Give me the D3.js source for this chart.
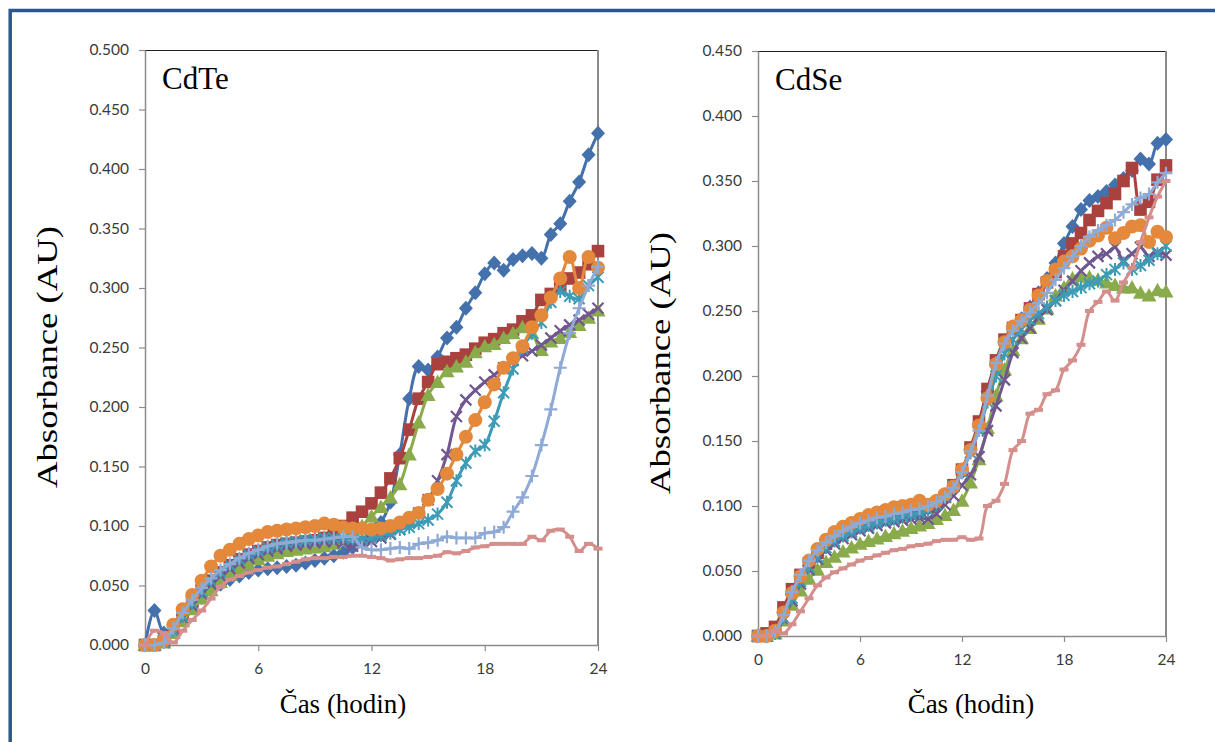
<!DOCTYPE html>
<html>
<head>
<meta charset="utf-8">
<script src="https://cdn.jsdelivr.net/npm/d3@7"></script>
<style>
    body { margin: 0; background: #fff; }
    svg { display: block; }
</style>
</head>
<body>
<svg id="chart" width="1215" height="742"></svg>
<script>
var hours = [0, 0.5, 1, 1.5, 2, 2.5, 3, 3.5, 4, 4.5, 5, 5.5, 6, 6.5, 7, 7.5, 8, 8.5, 9, 9.5, 10, 10.5, 11, 11.5,
    12, 12.5, 13, 13.5, 14, 14.5, 15, 15.5, 16, 16.5, 17, 17.5, 18, 18.5, 19, 19.5, 20, 20.5, 21, 21.5, 22, 22.5, 23, 23.5, 24];
var hourTicks = [0, 6, 12, 18, 24];
var cdteTicks = [0, 0.05, 0.1, 0.15, 0.2, 0.25, 0.3, 0.35, 0.4, 0.45, 0.5];
var cdseTicks = [0, 0.05, 0.1, 0.15, 0.2, 0.25, 0.3, 0.35, 0.4, 0.45];

// CdTe
var cdteBlue = [0, 0.029, 0.010, 0.016, 0.025, 0.033, 0.040, 0.046, 0.051, 0.055, 0.058, 0.061, 0.063, 0.064, 0.065, 0.066, 0.067, 0.069, 0.071, 0.073, 0.075, 0.078, 0.082, 0.087,
    0.094, 0.103, 0.120, 0.160, 0.207, 0.234, 0.231, 0.242, 0.258, 0.267, 0.283, 0.296, 0.312, 0.321, 0.315, 0.324, 0.327, 0.329, 0.325, 0.345, 0.354, 0.373, 0.389, 0.412, 0.430];
var cdteRed = [0, 0, 0.003, 0.012, 0.025, 0.036, 0.046, 0.054, 0.061, 0.067, 0.072, 0.076, 0.079, 0.082, 0.084, 0.085, 0.086, 0.087, 0.088, 0.090, 0.093, 0.100, 0.107, 0.112,
    0.119, 0.128, 0.140, 0.157, 0.181, 0.207, 0.221, 0.236, 0.238, 0.241, 0.244, 0.249, 0.254, 0.257, 0.262, 0.265, 0.272, 0.277, 0.290, 0.295, 0.302, 0.308, 0.313, 0.320, 0.331];
var cdteGreen = [0, 0, 0.002, 0.010, 0.020, 0.030, 0.039, 0.046, 0.053, 0.059, 0.064, 0.068, 0.072, 0.075, 0.077, 0.079, 0.080, 0.081, 0.082, 0.083, 0.085, 0.088, 0.093, 0.100,
    0.108, 0.116, 0.124, 0.135, 0.160, 0.187, 0.210, 0.221, 0.230, 0.234, 0.238, 0.246, 0.251, 0.253, 0.258, 0.262, 0.267, 0.262, 0.248, 0.255, 0.258, 0.263, 0.269, 0.275, 0.281];
var cdtePurple = [0, 0, 0.003, 0.012, 0.023, 0.033, 0.043, 0.051, 0.058, 0.064, 0.069, 0.073, 0.076, 0.079, 0.081, 0.083, 0.084, 0.085, 0.086, 0.087, 0.087, 0.086, 0.083, 0.085,
    0.087, 0.090, 0.093, 0.097, 0.103, 0.111, 0.122, 0.138, 0.160, 0.192, 0.206, 0.214, 0.221, 0.227, 0.233, 0.239, 0.243, 0.247, 0.252, 0.258, 0.264, 0.269, 0.273, 0.278, 0.283];
var cdteTeal = [0, 0, 0.002, 0.012, 0.024, 0.035, 0.045, 0.054, 0.061, 0.067, 0.072, 0.076, 0.079, 0.082, 0.084, 0.086, 0.087, 0.088, 0.089, 0.090, 0.090, 0.090, 0.089, 0.089,
    0.090, 0.092, 0.094, 0.097, 0.099, 0.102, 0.105, 0.110, 0.120, 0.138, 0.153, 0.163, 0.168, 0.188, 0.212, 0.232, 0.249, 0.262, 0.271, 0.288, 0.297, 0.293, 0.291, 0.302, 0.309];
var cdteOrange = [0, 0, 0.004, 0.017, 0.030, 0.042, 0.054, 0.066, 0.075, 0.080, 0.085, 0.089, 0.092, 0.095, 0.096, 0.097, 0.098, 0.099, 0.100, 0.102, 0.101, 0.099, 0.098, 0.098,
    0.097, 0.098, 0.100, 0.103, 0.107, 0.111, 0.122, 0.131, 0.144, 0.160, 0.175, 0.189, 0.204, 0.219, 0.233, 0.241, 0.251, 0.267, 0.277, 0.292, 0.308, 0.326, 0.300, 0.326, 0.317];
var cdteLightBlue = [0, 0, 0.002, 0.014, 0.027, 0.038, 0.048, 0.056, 0.063, 0.068, 0.073, 0.077, 0.080, 0.083, 0.085, 0.086, 0.087, 0.088, 0.088, 0.089, 0.090, 0.091, 0.091, 0.082,
    0.080, 0.080, 0.081, 0.082, 0.081, 0.085, 0.086, 0.088, 0.091, 0.090, 0.090, 0.090, 0.094, 0.095, 0.099, 0.112, 0.124, 0.142, 0.168, 0.198, 0.233, 0.262, 0.283, 0.302, 0.318];
var cdtePink = [0, 0.012, 0.010, 0.002, 0.012, 0.021, 0.029, 0.039, 0.049, 0.055, 0.058, 0.061, 0.063, 0.065, 0.066, 0.068, 0.070, 0.072, 0.073, 0.073, 0.074, 0.074, 0.075, 0.075,
    0.074, 0.073, 0.071, 0.072, 0.073, 0.073, 0.074, 0.075, 0.078, 0.077, 0.079, 0.082, 0.083, 0.085, 0.085, 0.085, 0.085, 0.091, 0.088, 0.096, 0.097, 0.091, 0.079, 0.085, 0.081];

// CdSe
var cdseBlue = [0, 0, 0.004, 0.018, 0.032, 0.044, 0.054, 0.062, 0.069, 0.074, 0.078, 0.082, 0.085, 0.087, 0.089, 0.090, 0.091, 0.092, 0.094, 0.096, 0.098, 0.101, 0.106, 0.114,
    0.126, 0.143, 0.163, 0.188, 0.210, 0.226, 0.236, 0.244, 0.253, 0.264, 0.275, 0.287, 0.302, 0.315, 0.328, 0.335, 0.338, 0.342, 0.347, 0.352, 0.358, 0.367, 0.363, 0.379, 0.382];
var cdseRed = [0, 0.002, 0.007, 0.022, 0.036, 0.047, 0.056, 0.064, 0.071, 0.076, 0.080, 0.083, 0.086, 0.088, 0.090, 0.091, 0.093, 0.094, 0.095, 0.097, 0.099, 0.102, 0.107, 0.116,
    0.128, 0.145, 0.165, 0.190, 0.212, 0.228, 0.237, 0.243, 0.252, 0.263, 0.272, 0.280, 0.292, 0.302, 0.310, 0.320, 0.327, 0.333, 0.340, 0.350, 0.360, 0.328, 0.334, 0.351, 0.362];
var cdseGreen = [0, 0, 0.002, 0.012, 0.024, 0.035, 0.044, 0.051, 0.057, 0.061, 0.065, 0.068, 0.071, 0.073, 0.075, 0.077, 0.079, 0.081, 0.083, 0.085, 0.087, 0.090, 0.093, 0.097,
    0.104, 0.118, 0.136, 0.160, 0.185, 0.205, 0.220, 0.229, 0.237, 0.244, 0.252, 0.262, 0.268, 0.275, 0.277, 0.276, 0.274, 0.272, 0.270, 0.268, 0.268, 0.264, 0.262, 0.266, 0.265];
var cdsePurple = [0, 0, 0.002, 0.013, 0.027, 0.040, 0.051, 0.059, 0.066, 0.071, 0.075, 0.078, 0.081, 0.083, 0.085, 0.087, 0.088, 0.089, 0.090, 0.091, 0.090, 0.094, 0.101, 0.108,
    0.116, 0.124, 0.138, 0.158, 0.177, 0.197, 0.218, 0.229, 0.237, 0.245, 0.251, 0.258, 0.266, 0.273, 0.281, 0.287, 0.292, 0.294, 0.299, 0.289, 0.294, 0.299, 0.292, 0.295, 0.293];
var cdseTeal = [0, 0, 0.002, 0.014, 0.029, 0.042, 0.053, 0.061, 0.068, 0.073, 0.077, 0.080, 0.083, 0.085, 0.087, 0.089, 0.090, 0.092, 0.093, 0.095, 0.097, 0.101, 0.107, 0.115,
    0.126, 0.141, 0.158, 0.180, 0.200, 0.217, 0.228, 0.236, 0.243, 0.248, 0.253, 0.258, 0.262, 0.265, 0.268, 0.271, 0.273, 0.278, 0.282, 0.287, 0.282, 0.285, 0.289, 0.294, 0.300];
var cdseOrange = [0, 0, 0.004, 0.018, 0.033, 0.046, 0.058, 0.067, 0.074, 0.080, 0.084, 0.087, 0.090, 0.093, 0.095, 0.097, 0.099, 0.100, 0.101, 0.104, 0.101, 0.104, 0.109, 0.115,
    0.128, 0.143, 0.162, 0.183, 0.209, 0.226, 0.238, 0.243, 0.251, 0.262, 0.273, 0.282, 0.288, 0.292, 0.298, 0.304, 0.308, 0.314, 0.306, 0.310, 0.315, 0.316, 0.303, 0.311, 0.307];
var cdseLightBlue = [0, 0, 0.003, 0.016, 0.034, 0.047, 0.058, 0.066, 0.072, 0.077, 0.081, 0.084, 0.087, 0.089, 0.091, 0.092, 0.094, 0.095, 0.097, 0.098, 0.100, 0.103, 0.107, 0.114,
    0.126, 0.142, 0.158, 0.185, 0.210, 0.225, 0.235, 0.242, 0.249, 0.256, 0.264, 0.274, 0.283, 0.292, 0.300, 0.307, 0.312, 0.316, 0.320, 0.326, 0.332, 0.337, 0.340, 0.349, 0.356];
var cdsePink = [0, 0, 0.004, 0.002, 0.009, 0.019, 0.029, 0.039, 0.045, 0.049, 0.052, 0.055, 0.058, 0.060, 0.062, 0.064, 0.066, 0.067, 0.069, 0.070, 0.071, 0.073, 0.074, 0.074,
    0.076, 0.074, 0.075, 0.100, 0.104, 0.117, 0.143, 0.150, 0.171, 0.174, 0.186, 0.189, 0.205, 0.212, 0.224, 0.250, 0.257, 0.265, 0.258, 0.272, 0.283, 0.303, 0.322, 0.338, 0.350];

var seriesColors = ['#4471ab', '#a9413e', '#8aab4b', '#70578f', '#3d9bb6', '#e4883b', '#8faad5', '#d48e8c'];
var markerTypes = ['diamond', 'square', 'triangle', 'cross', 'star', 'circle', 'plus', 'dash'];

var panels = [
    {
        title: 'CdTe', left: 145, right: 598, top: 50, bottom: 645, yMax: 0.5, yTicks: cdteTicks,
        xTitle: 343, yTitle: 357,
        series: [cdteBlue, cdteRed, cdteGreen, cdtePurple, cdteTeal, cdteOrange, cdteLightBlue, cdtePink]
    },
    {
        title: 'CdSe', left: 758, right: 1166, top: 51, bottom: 636, yMax: 0.45, yTicks: cdseTicks,
        xTitle: 971, yTitle: 363,
        series: [cdseBlue, cdseRed, cdseGreen, cdsePurple, cdseTeal, cdseOrange, cdseLightBlue, cdsePink]
    }
];

var svg = d3.select('#chart');
var axisColor = '#8c8c8c';
var serif = '"Liberation Serif", "Times New Roman", serif';

// outer frame, only top and left edges are inside the picture
svg.append('rect')
    .attr('x', 10.2).attr('y', 10.5)
    .attr('width', 1400).attr('height', 900)
    .attr('fill', 'none')
    .attr('stroke', '#2d5592')
    .attr('stroke-width', 3.5);

function drawMarker(sel, type, color) {
    if (type === 'diamond') {
        sel.append('path').attr('d', 'M0,-7.5L7,0L0,7.5L-7,0Z').attr('fill', color);
    } else if (type === 'square') {
        sel.append('rect').attr('x', -6.3).attr('y', -6.3).attr('width', 12.6).attr('height', 12.6).attr('fill', color);
    } else if (type === 'triangle') {
        sel.append('path').attr('d', 'M0,-7.5L7.5,6L-7.5,6Z').attr('fill', color);
    } else if (type === 'circle') {
        sel.append('circle').attr('r', 7).attr('fill', color);
    } else if (type === 'cross') {
        sel.append('path').attr('d', 'M-5.5,-5.5L5.5,5.5M-5.5,5.5L5.5,-5.5')
            .attr('stroke', color).attr('stroke-width', 2.2).attr('fill', 'none');
    } else if (type === 'star') {
        sel.append('path').attr('d', 'M-5.5,-5.5L5.5,5.5M-5.5,5.5L5.5,-5.5M0,-6.5L0,6.5')
            .attr('stroke', color).attr('stroke-width', 2).attr('fill', 'none');
    } else if (type === 'plus') {
        sel.append('path').attr('d', 'M-6.5,0L6.5,0M0,-6.5L0,6.5')
            .attr('stroke', color).attr('stroke-width', 2.2).attr('fill', 'none');
    } else if (type === 'dash') {
        sel.append('path').attr('d', 'M-4.5,0L4.5,0')
            .attr('stroke', color).attr('stroke-width', 4).attr('fill', 'none');
    }
}

function drawPanel(cfg) {
    var x = d3.scaleLinear().domain([0, 24]).range([cfg.left, cfg.right]);
    var y = d3.scaleLinear().domain([0, cfg.yMax]).range([cfg.bottom, cfg.top]);
    var g = svg.append('g');

    // plot area border: dark top, grey right
    g.append('line')
        .attr('x1', cfg.left).attr('x2', cfg.right)
        .attr('y1', cfg.top + 0.5).attr('y2', cfg.top + 0.5)
        .attr('stroke', '#222').attr('stroke-width', 1.2);
    g.append('line')
        .attr('x1', cfg.right).attr('x2', cfg.right)
        .attr('y1', cfg.top).attr('y2', cfg.bottom)
        .attr('stroke', '#8a8a8a').attr('stroke-width', 2);

    var yAxis = g.append('g')
        .attr('transform', 'translate(' + cfg.left + ',0)')
        .call(d3.axisLeft(y).tickValues(cfg.yTicks).tickFormat(d3.format('.3f'))
            .tickSize(6).tickSizeOuter(0).tickPadding(10));

    var xAxis = g.append('g')
        .attr('transform', 'translate(0,' + cfg.bottom + ')')
        .call(d3.axisBottom(x).tickValues(hourTicks).tickFormat(d3.format('d'))
            .tickSize(6).tickSizeOuter(0).tickPadding(12));

    [yAxis, xAxis].forEach(function(a) {
        a.select('.domain').attr('stroke', axisColor).attr('stroke-width', 1.5);
        a.selectAll('.tick line').attr('stroke', axisColor).attr('stroke-width', 1.2);
        a.selectAll('.tick text')
            .attr('fill', '#3a3a3a')
            .style('font-family', 'Lato, "Open Sans", sans-serif')
            .style('font-size', '15.5px');
    });

    var line = d3.line()
        .x(function(d, i) {
            return x(hours[i]);
        })
        .y(function(d) {
            return y(d);
        })
        .curve(d3.curveCatmullRom.alpha(0.5));

    cfg.series.forEach(function(values, k) {
        var color = seriesColors[k];
        var sg = g.append('g');
        sg.append('path')
            .datum(values)
            .attr('d', line)
            .attr('fill', 'none')
            .attr('stroke', color)
            .attr('stroke-width', 3)
            .attr('stroke-linejoin', 'round');

        sg.selectAll('g.mark')
            .data(values)
            .enter().append('g')
            .attr('class', 'mark')
            .attr('transform', function(d, i) {
                return 'translate(' + x(hours[i]) + ',' + y(d) + ')';
            })
            .each(function() {
                drawMarker(d3.select(this), markerTypes[k], color);
            });
    });

    g.append('text')
        .attr('x', cfg.left + 17).attr('y', cfg.top + 39)
        .attr('fill', '#000')
        .style('font-family', serif)
        .style('font-size', '31px')
        .text(cfg.title);

    g.append('text')
        .attr('x', cfg.xTitle).attr('y', 713)
        .attr('text-anchor', 'middle')
        .attr('fill', '#000')
        .style('font-family', serif)
        .style('font-size', '27px')
        .text('Čas (hodin)');

    g.append('text')
        .attr('transform', 'translate(' + (cfg.left - 88) + ',' + cfg.yTitle + ') rotate(-90)')
        .attr('text-anchor', 'middle')
        .attr('fill', '#000')
        .attr('textLength', 262)
        .attr('lengthAdjust', 'spacingAndGlyphs')
        .style('font-family', serif)
        .style('font-size', '29px')
        .text('Absorbance  (AU)');
}

panels.forEach(drawPanel);
</script>
</body>
</html>
